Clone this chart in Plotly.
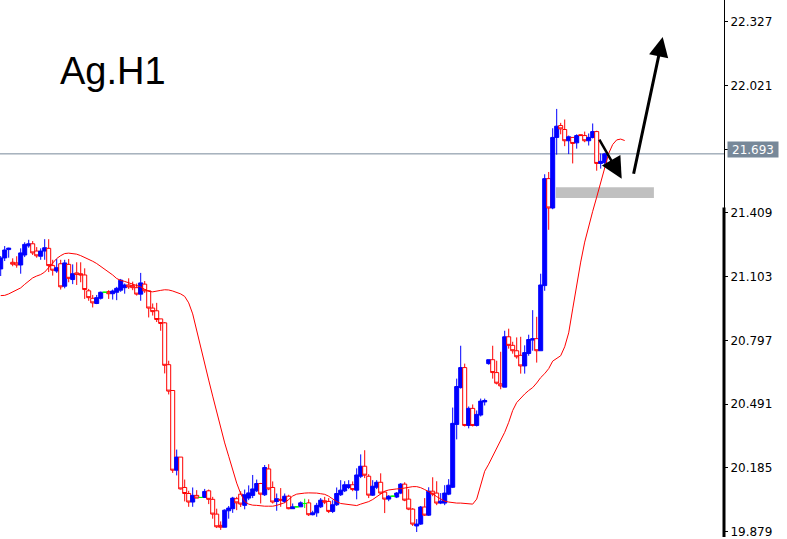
import plotly.graph_objects as go

open_ = [21.140, 21.193, 21.233, 21.172, 21.169, 21.159, 21.207, 21.251, 21.261, 21.226,
         21.201, 21.226, 21.239, 21.156, 21.130, 21.165, 21.057, 21.162, 21.089, 21.121,
         21.117, 21.111, 21.035, 20.999, 20.974, 20.999, 21.028, 21.031, 21.021, 21.028,
         21.038, 21.050, 21.063, 21.060, 21.050, 21.019, 21.067, 21.035, 20.952, 20.939,
         20.900, 20.881, 20.680, 20.556, 20.173, 20.236, 20.090, 20.061, 20.020, 20.052,
         20.042, 20.042, 20.074, 20.033, 19.962, 19.908, 19.899, 19.978, 19.988, 20.036,
         20.058, 20.004, 20.039, 20.052, 20.074, 20.109, 20.055, 20.179, 20.090, 20.023,
         20.033, 20.023, 20.048, 19.988, 19.997, 19.997, 20.013, 20.016, 19.959, 19.968,
         19.997, 20.026, 20.023, 19.975, 20.007, 20.055, 20.074, 20.090, 20.103, 20.077,
         20.144, 20.192, 20.144, 20.053, 20.091, 20.115, 20.068, 20.034, 20.048, 20.044,
         20.063, 20.106, 20.034, 19.986, 19.905, 19.914, 19.996, 19.957, 20.072, 20.063,
         20.015, 20.015, 20.058, 20.091, 20.393, 20.570, 20.666, 20.388, 20.470, 20.388,
         20.438, 20.501, 20.685, 20.704, 20.642, 20.588, 20.572, 20.814, 20.773, 20.747,
         20.725, 20.674, 20.734, 20.798, 20.805, 20.747, 21.060, 21.574, 21.433, 21.772,
         21.829, 21.810, 21.756, 21.772, 21.746, 21.785, 21.781, 21.756, 21.772, 21.800,
         21.647, 21.651]

high = [21.202, 21.250, 21.242, 21.191, 21.201, 21.239, 21.268, 21.280, 21.274, 21.245,
        21.239, 21.283, 21.283, 21.184, 21.188, 21.184, 21.184, 21.188, 21.162, 21.172,
        21.172, 21.143, 21.044, 21.015, 21.015, 21.031, 21.030, 21.038, 21.041, 21.054,
        21.092, 21.070, 21.095, 21.079, 21.070, 21.121, 21.082, 21.038, 20.974, 20.977,
        20.900, 20.885, 20.699, 20.556, 20.272, 20.236, 20.128, 20.074, 20.090, 20.077,
        20.044, 20.083, 20.080, 20.045, 19.988, 19.927, 19.985, 20.001, 20.045, 20.045,
        20.072, 20.080, 20.100, 20.150, 20.128, 20.112, 20.198, 20.202, 20.119, 20.061,
        20.087, 20.061, 20.055, 20.013, 20.000, 20.023, 20.036, 20.033, 19.978, 20.016,
        20.039, 20.045, 20.039, 20.029, 20.090, 20.125, 20.120, 20.125, 20.119, 20.182,
        20.249, 20.269, 20.154, 20.125, 20.125, 20.158, 20.072, 20.053, 20.050, 20.068,
        20.111, 20.115, 20.082, 19.991, 19.938, 20.001, 20.039, 20.091, 20.139, 20.120,
        20.063, 20.101, 20.130, 20.474, 20.613, 20.771, 20.685, 20.479, 20.489, 20.460,
        20.517, 20.517, 20.704, 20.771, 20.699, 20.742, 20.843, 20.853, 20.790, 20.811,
        20.814, 20.773, 20.824, 20.942, 20.910, 21.117, 21.595, 21.606, 21.816, 21.909,
        21.842, 21.858, 21.781, 21.772, 21.787, 21.786, 21.800, 21.791, 21.839, 21.804,
        21.695, 21.698]

low = [21.106, 21.178, 21.194, 21.153, 21.146, 21.117, 21.197, 21.242, 21.207, 21.194,
       21.184, 21.184, 21.125, 21.108, 21.121, 21.041, 21.047, 21.076, 21.067, 21.063,
       21.076, 20.996, 20.987, 20.955, 20.971, 20.993, 21.026, 20.996, 20.993, 20.990,
       21.030, 21.021, 21.044, 21.038, 21.012, 20.987, 21.025, 20.907, 20.916, 20.885,
       20.843, 20.638, 20.537, 20.160, 20.148, 20.080, 20.023, 19.997, 19.997, 20.039,
       20.040, 20.042, 20.010, 19.940, 19.895, 19.886, 19.899, 19.940, 19.968, 19.981,
       19.996, 19.985, 20.029, 20.039, 20.068, 20.013, 20.049, 20.077, 20.013, 19.978,
       19.997, 20.015, 19.985, 19.988, 19.995, 19.996, 19.991, 19.953, 19.956, 19.949,
       19.991, 20.010, 19.967, 19.967, 20.001, 20.049, 20.068, 20.082, 20.072, 20.033,
       20.135, 20.135, 20.039, 20.049, 20.082, 20.058, 19.967, 20.024, 20.046, 20.039,
       20.058, 20.024, 19.981, 19.905, 19.876, 19.910, 19.953, 19.953, 20.048, 20.005,
       20.010, 20.005, 20.053, 20.087, 20.321, 20.565, 20.383, 20.374, 20.383, 20.383,
       20.431, 20.484, 20.680, 20.613, 20.585, 20.562, 20.572, 20.757, 20.733, 20.709,
       20.637, 20.637, 20.723, 20.747, 20.690, 20.747, 21.035, 21.328, 21.427, 21.689,
       21.787, 21.730, 21.692, 21.647, 21.718, 21.779, 21.749, 21.733, 21.767, 21.612,
       21.622, 21.644]

close = [21.193, 21.231, 21.240, 21.163, 21.159, 21.217, 21.258, 21.261, 21.217, 21.203,
         21.226, 21.242, 21.156, 21.134, 21.146, 21.054, 21.169, 21.095, 21.117, 21.114,
         21.111, 21.041, 21.002, 20.977, 21.002, 21.028, 21.028, 21.021, 21.034, 21.047,
         21.086, 21.063, 21.054, 21.050, 21.019, 21.073, 21.035, 20.952, 20.935, 20.897,
         20.878, 20.677, 20.553, 20.173, 20.236, 20.083, 20.061, 20.020, 20.052, 20.039,
         20.042, 20.071, 20.033, 19.962, 19.901, 19.899, 19.981, 19.991, 20.039, 20.016,
         20.010, 20.055, 20.064, 20.083, 20.109, 20.058, 20.186, 20.083, 20.020, 20.036,
         20.029, 20.048, 19.988, 19.997, 19.997, 20.016, 20.013, 19.959, 19.968, 20.004,
         20.029, 20.020, 19.975, 20.007, 20.061, 20.077, 20.103, 20.103, 20.080, 20.150,
         20.192, 20.149, 20.053, 20.096, 20.115, 20.063, 20.034, 20.048, 20.048, 20.063,
         20.106, 20.029, 19.986, 19.914, 19.914, 19.996, 19.957, 20.072, 20.058, 20.015,
         20.024, 20.063, 20.101, 20.398, 20.575, 20.666, 20.388, 20.470, 20.388, 20.441,
         20.505, 20.508, 20.704, 20.642, 20.591, 20.578, 20.814, 20.773, 20.747, 20.718,
         20.674, 20.738, 20.801, 20.805, 20.747, 21.063, 21.574, 21.433, 21.772, 21.826,
         21.813, 21.756, 21.775, 21.743, 21.781, 21.781, 21.756, 21.772, 21.800, 21.647,
         21.657, 21.693]

ma_line = [21.012, 21.013, 21.020, 21.030, 21.039, 21.049, 21.066, 21.082, 21.097, 21.106,
           21.113, 21.125, 21.147, 21.166, 21.190, 21.204, 21.214, 21.216, 21.215, 21.211,
           21.204, 21.196, 21.188, 21.177, 21.166, 21.152, 21.140, 21.128, 21.111, 21.094,
           21.085, 21.080, 21.073, 21.066, 21.061, 21.054, 21.042, 21.032, 21.030, 21.032,
           21.037, 21.040, 21.039, 21.034, 21.027, 21.020, 21.008, 20.977, 20.924, 20.848,
           20.762, 20.685, 20.606, 20.529, 20.453, 20.376, 20.304, 20.240, 20.175, 20.111,
           20.060, 20.022, 20.010, 20.005, 20.004, 20.001, 20.000, 20.000, 20.000, 20.004,
           20.009, 20.017, 20.032, 20.049, 20.058, 20.062, 20.063, 20.064, 20.064, 20.063,
           20.060, 20.057, 20.048, 20.034, 20.022, 20.013, 20.011, 20.008, 20.004, 20.003,
           20.010, 20.016, 20.022, 20.032, 20.044, 20.056, 20.072, 20.078, 20.082, 20.083,
           20.084, 20.088, 20.092, 20.094, 20.094, 20.089, 20.080, 20.071, 20.060, 20.046,
           20.035, 20.024, 20.020, 20.017, 20.015, 20.015, 20.013, 20.012, 20.010, 20.034,
           20.096, 20.168, 20.202, 20.240, 20.278, 20.316, 20.355, 20.403, 20.460, 20.498,
           20.520, 20.539, 20.556, 20.570, 20.592, 20.618, 20.637, 20.661, 20.697, 20.711,
           20.723, 20.766, 20.833, 20.948, 21.063, 21.173, 21.269, 21.350, 21.417, 21.485,
           21.551, 21.628, 21.695, 21.738, 21.760, 21.764, 21.757]

tick_vals = [22.327, 22.021, 21.715, 21.409, 21.103, 20.797, 20.491, 20.185, 19.879]
tick_text = ["%.3f" % v for v in tick_vals]
last_price = 21.693
title_text = "Ag.H1"

# annotation geometry (bar index, price)
zone = dict(x0=138.8, x1=163.3, y0=21.481, y1=21.532)
arrow_down = dict(tail=(149.45, 21.769), tip=(155.25, 21.574))
arrow_up = dict(tail=(158.15, 21.590), tip=(165.5, 22.254))

idx = list(range(len(open_)))
normal = [i for i in idx if open_[i] != close[i]]
doji = [i for i in idx if open_[i] == close[i]]

fig = go.Figure()

fig.add_trace(go.Candlestick(
    x=normal,
    open=[open_[i] for i in normal], high=[high[i] for i in normal],
    low=[low[i] for i in normal], close=[close[i] for i in normal],
    increasing=dict(line=dict(color="#0000ff", width=1), fillcolor="#0000ff"),
    decreasing=dict(line=dict(color="#ff0000", width=1), fillcolor="#ffffff"),
    whiskerwidth=0, showlegend=False, hoverinfo="skip"))

fig.add_trace(go.Candlestick(
    x=doji,
    open=[open_[i] for i in doji], high=[high[i] for i in doji],
    low=[low[i] for i in doji], close=[close[i] for i in doji],
    increasing=dict(line=dict(color="#00ff00", width=1), fillcolor="#00ff00"),
    decreasing=dict(line=dict(color="#00ff00", width=1), fillcolor="#00ff00"),
    whiskerwidth=0, showlegend=False, hoverinfo="skip"))

fig.add_trace(go.Scatter(
    x=list(range(len(ma_line))), y=ma_line, mode="lines",
    line=dict(color="#ff0000", width=1), showlegend=False, hoverinfo="skip"))

shapes = [
    dict(type="rect", xref="x", yref="y", layer="below",
         x0=zone["x0"], x1=zone["x1"], y0=zone["y0"], y1=zone["y1"],
         fillcolor="#c0c0c0", line=dict(width=0)),
    dict(type="line", xref="paper", yref="y", layer="below",
         x0=0, x1=1, y0=last_price, y1=last_price,
         line=dict(color="#778899", width=1)),
    dict(type="line", xref="paper", yref="paper",
         x0=1, x1=1, y0=0, y1=0.6135,
         line=dict(color="#000000", width=3)),
]

annotations = [
    dict(text=title_text, xref="paper", yref="paper", x=0, y=1,
         xanchor="left", yanchor="top", xshift=58, yshift=-48,
         showarrow=False, font=dict(family="Liberation Sans, Arial", size=38, color="#000000")),
    dict(text="21.693", xref="paper", yref="y", x=1, y=last_price,
         xanchor="left", yanchor="middle", xshift=3, yshift=4,
         showarrow=False, bgcolor="#778899", width=50, height=15, borderpad=0,
         font=dict(family="DejaVu Sans", size=12, color="#ffffff")),
]
for a, w, s in ((arrow_down, 2.5, 1.7), (arrow_up, 3, 1.3)):
    annotations.append(dict(
        x=a["tip"][0], y=a["tip"][1], ax=a["tail"][0], ay=a["tail"][1],
        xref="x", yref="y", axref="x", ayref="y", text="",
        showarrow=True, arrowhead=2, arrowsize=s, arrowwidth=w,
        arrowcolor="#000000", standoff=0, startstandoff=0))

fig.update_layout(
    width=787, height=539,
    margin=dict(l=0, r=63, t=0, b=0),
    paper_bgcolor="#ffffff", plot_bgcolor="#ffffff",
    boxgap=0, boxgroupgap=0,
    shapes=shapes, annotations=annotations,
    xaxis=dict(range=[-0.175, 180.825], visible=False, rangeslider=dict(visible=False),
               showgrid=False, zeroline=False),
    yaxis=dict(range=[19.852, 22.4323], side="right", tickvals=tick_vals, ticktext=tick_text,
               ticks="outside", ticklen=3, tickwidth=1, tickcolor="#000000",
               showline=True, linecolor="#000000", linewidth=1,
               showgrid=False, zeroline=False, ticklabeloverflow="allow",
               tickfont=dict(family="DejaVu Sans", size=12, color="#000000")),
)

fig.write_html("out.html", config={"displayModeBar": False},
               post_script="document.body.style.margin='0';document.body.style.overflow='hidden';")
